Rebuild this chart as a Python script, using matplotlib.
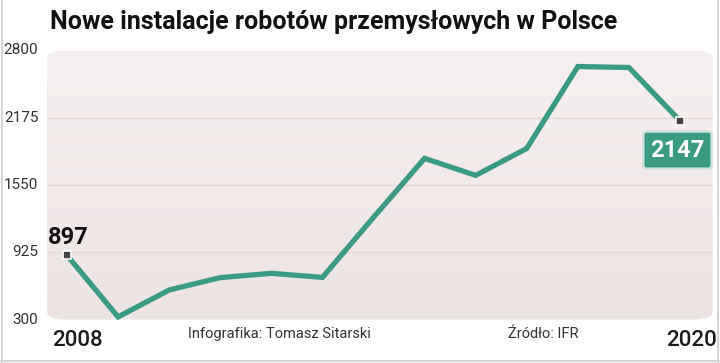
import matplotlib
matplotlib.use("Agg")
import matplotlib.pyplot as plt
import numpy as np
from matplotlib.patches import FancyBboxPatch
from matplotlib.lines import Line2D

years = list(range(2008, 2021))
installs = [897, 325, 575, 690, 730, 692, 1250, 1798, 1640, 1890, 2651, 2642, 2147]
yticks = [300, 925, 1550, 2175, 2800]
title = "Nowe instalacje robotów przemysłowych w Polsce"
credit = "Infografika: Tomasz Sitarski"
source = "Źródło: IFR"

plt.rcParams['font.family'] = ['Roboto', 'DejaVu Sans']
GREEN = '#3a9a82'

fig = plt.figure(figsize=(7.2, 3.63), dpi=100)
fig.patch.set_facecolor('white')
ax = fig.add_axes([47/720, 1-319.6/363, 665.7/720, 269.1/363])
ax.set_xlim(2008 - 20/51.08, 2020 + 32.7/51.08)
ax.set_ylim(300, 2800)
ax.axis('off')

# gradient rounded background
grad = np.linspace(0, 1, 256).reshape(-1, 1)
top = np.array([247, 240, 240]) / 255
bot = np.array([236, 228, 227]) / 255
img = top[None, None, :] * (1 - grad[:, :, None]) + bot[None, None, :] * grad[:, :, None]
xl = ax.get_xlim()
im = ax.imshow(img, extent=[xl[0], xl[1], 300, 2800], aspect='auto', origin='upper', zorder=0)
box = FancyBboxPatch((0, 0), 1, 1, boxstyle="round,pad=0,rounding_size=0.03",
                     transform=ax.transAxes, facecolor='none', edgecolor='none')
ax.add_patch(box)
im.set_clip_path(box)

for v in yticks[1:-1]:
    ax.axhline(v, color='#e4d9d9', lw=1.0, zorder=1)

ax.plot(years, installs, color=GREEN, lw=3.8, solid_joinstyle='miter', zorder=3)

# end markers
for xi, yi in [(years[0], installs[0]), (years[-1], installs[-1])]:
    ax.plot(xi, yi, marker='s', ms=6, mfc='#444444', mec='white', mew=1.2, zorder=5)

ax.text(years[0] - 0.38, installs[0] + 60, str(installs[0]), fontsize=17, fontweight='bold',
        color='#111111', ha='left', va='bottom', zorder=6)
ax.text(years[-1] - 0.05, installs[-1] - 272, str(installs[-1]), fontsize=17, fontweight='bold',
        color='white', ha='center', va='center', zorder=6,
        bbox=dict(boxstyle='round,pad=0.3,rounding_size=0.15', fc=GREEN, ec='#d0e4de', lw=1.8))

# y tick labels
for v in yticks:
    ax.text(-0.013, (v - 300) / 2500, str(v), transform=ax.transAxes, ha='right', va='center',
            fontsize=11, color='#333333')

fig.text(52/720, 1-340/363, "2008", fontsize=16, color='#1a1a1a', ha='left', va='center', fontweight='medium')
fig.text(717/720, 1-340/363, "2020", fontsize=16, color='#1a1a1a', ha='right', va='center', fontweight='medium')
fig.text(188/720, 1-334/363, credit, fontsize=10.5, color='#333333', ha='left', va='center')
fig.text(508/720, 1-334/363, source, fontsize=10.5, color='#333333', ha='left', va='center')
fig.text(50/720, 1-22/363, title, fontsize=18, fontweight='bold', color='#111111', ha='left', va='center')

# frame lines
for x0, y0, x1, y1 in [(1.5/720, 0, 1.5/720, 1), (0, 2/363, 1, 2/363), (718/720, 0, 718/720, 1)]:
    fig.add_artist(Line2D([x0, x1], [y0, y1], transform=fig.transFigure, color='#d6d6d6', lw=1.5))

fig.savefig('out.png', dpi=100, facecolor='white')
